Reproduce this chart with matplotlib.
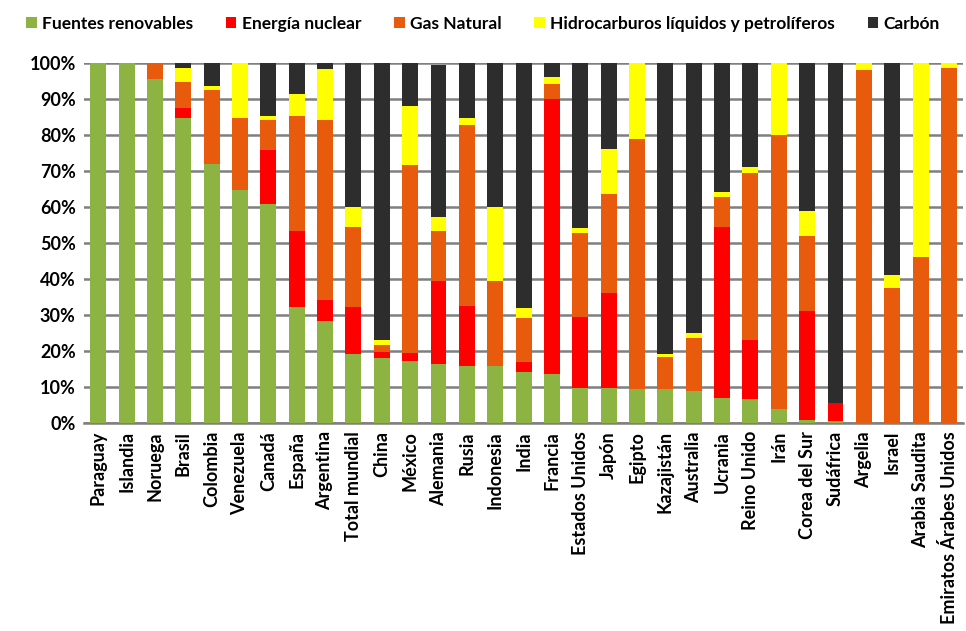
import numpy as np
import matplotlib.pyplot as plt
from matplotlib.patches import Patch

plt.rcParams['font.family'] = ['Lato', 'DejaVu Sans']

paises = ['Paraguay', 'Islandia', 'Noruega', 'Brasil', 'Colombia', 'Venezuela',
          'Canadá', 'España', 'Argentina', 'Total mundial', 'China', 'México',
          'Alemania', 'Rusia', 'Indonesia', 'India', 'Francia', 'Estados Unidos',
          'Japón', 'Egipto', 'Kazajistán', 'Australia', 'Ucrania', 'Reino Unido',
          'Irán', 'Corea del Sur', 'Sudáfrica', 'Argelia', 'Israel',
          'Arabia Saudita', 'Emiratos Árabes Unidos']

# porcentajes por fuente (%)
renovables = [100, 100, 95.6, 84.7, 72.0, 64.8, 60.7, 32.2, 28.3, 19.0, 18.1, 17.3,
              16.4, 15.8, 15.8, 14.1, 13.6, 9.7, 9.7, 9.5, 9.5, 8.7, 6.9, 6.5,
              3.9, 0.8, 0.6, 0, 0, 0, 0]
nuclear = [0, 0, 0, 2.9, 0, 0, 15.2, 21.0, 5.9, 13.2, 1.5, 2.1,
           22.9, 16.6, 0, 2.8, 76.5, 19.7, 26.4, 0, 0, 0, 47.5, 16.6,
           0, 30.2, 5.0, 0, 0, 0, 0]
gas = [0, 0, 4.4, 7.1, 20.6, 20.0, 8.4, 32.2, 50.0, 22.2, 1.9, 52.4,
       13.9, 50.5, 23.6, 12.2, 4.0, 23.3, 27.4, 69.5, 8.9, 14.9, 8.3, 46.3,
       76.2, 20.8, 0, 98.1, 37.5, 46.1, 98.7]
petroleo = [0, 0, 0, 4.0, 0.9, 15.2, 1.1, 6.1, 14.2, 5.6, 1.4, 16.4,
            4.0, 1.8, 20.6, 2.8, 2.0, 1.5, 12.7, 21.0, 0.8, 1.3, 1.4, 1.7,
            19.9, 7.1, 0, 1.9, 3.7, 53.9, 1.3]
carbon = [0, 0, 0, 1.3, 6.5, 0, 14.6, 8.5, 1.6, 40.0, 77.1, 11.8,
          42.2, 15.3, 40.0, 68.1, 3.9, 45.8, 23.8, 0, 80.8, 75.1, 35.9, 28.9,
          0, 41.1, 94.4, 0, 58.8, 0, 0]

series = [('Fuentes renovables', renovables, '#8db443'),
          ('Energía nuclear', nuclear, '#ff0000'),
          ('Gas Natural', gas, '#e85a0c'),
          ('Hidrocarburos líquidos y petrolíferos', petroleo, '#ffff00'),
          ('Carbón', carbon, '#2d2d2d')]

fig = plt.figure(figsize=(9.66, 6.31), dpi=100)
ax = fig.add_axes([0.087, 0.33, 0.910, 0.57])

x = np.arange(len(paises))
base = np.zeros(len(paises))
handles = []
for nombre, vals, color in series:
    vals = np.array(vals, dtype=float)
    ax.bar(x, vals, 0.56, bottom=base, color=color, zorder=3)
    base += vals
    handles.append(Patch(facecolor=color, label=nombre))

ax.set_xlim(-0.5, len(paises) - 0.5)
ax.set_ylim(0, 100)
ax.set_yticks(np.arange(0, 101, 10))
ax.set_yticklabels([f'{v}%' for v in range(0, 101, 10)], fontsize=13, fontweight='bold')
ax.set_xticks(x)
ax.set_xticklabels(paises, rotation=90, fontsize=13, fontweight='bold')
ax.tick_params(axis='both', length=0, pad=6)
ax.yaxis.grid(True, color='#7f7f7f', linewidth=1.8, zorder=0)
for s in ['left', 'right', 'top']:
    ax.spines[s].set_visible(False)
ax.spines['bottom'].set_color('#7f7f7f')
ax.spines['bottom'].set_linewidth(1.8)

fig.legend(handles=handles, loc='upper center', bbox_to_anchor=(0.5, 1.0), ncol=5,
           frameon=False, handlelength=0.6, handleheight=0.6, handletextpad=0.3,
           columnspacing=1.9, prop={'size': 12.5, 'weight': 'bold'})

fig.savefig('out.png', dpi=100)
